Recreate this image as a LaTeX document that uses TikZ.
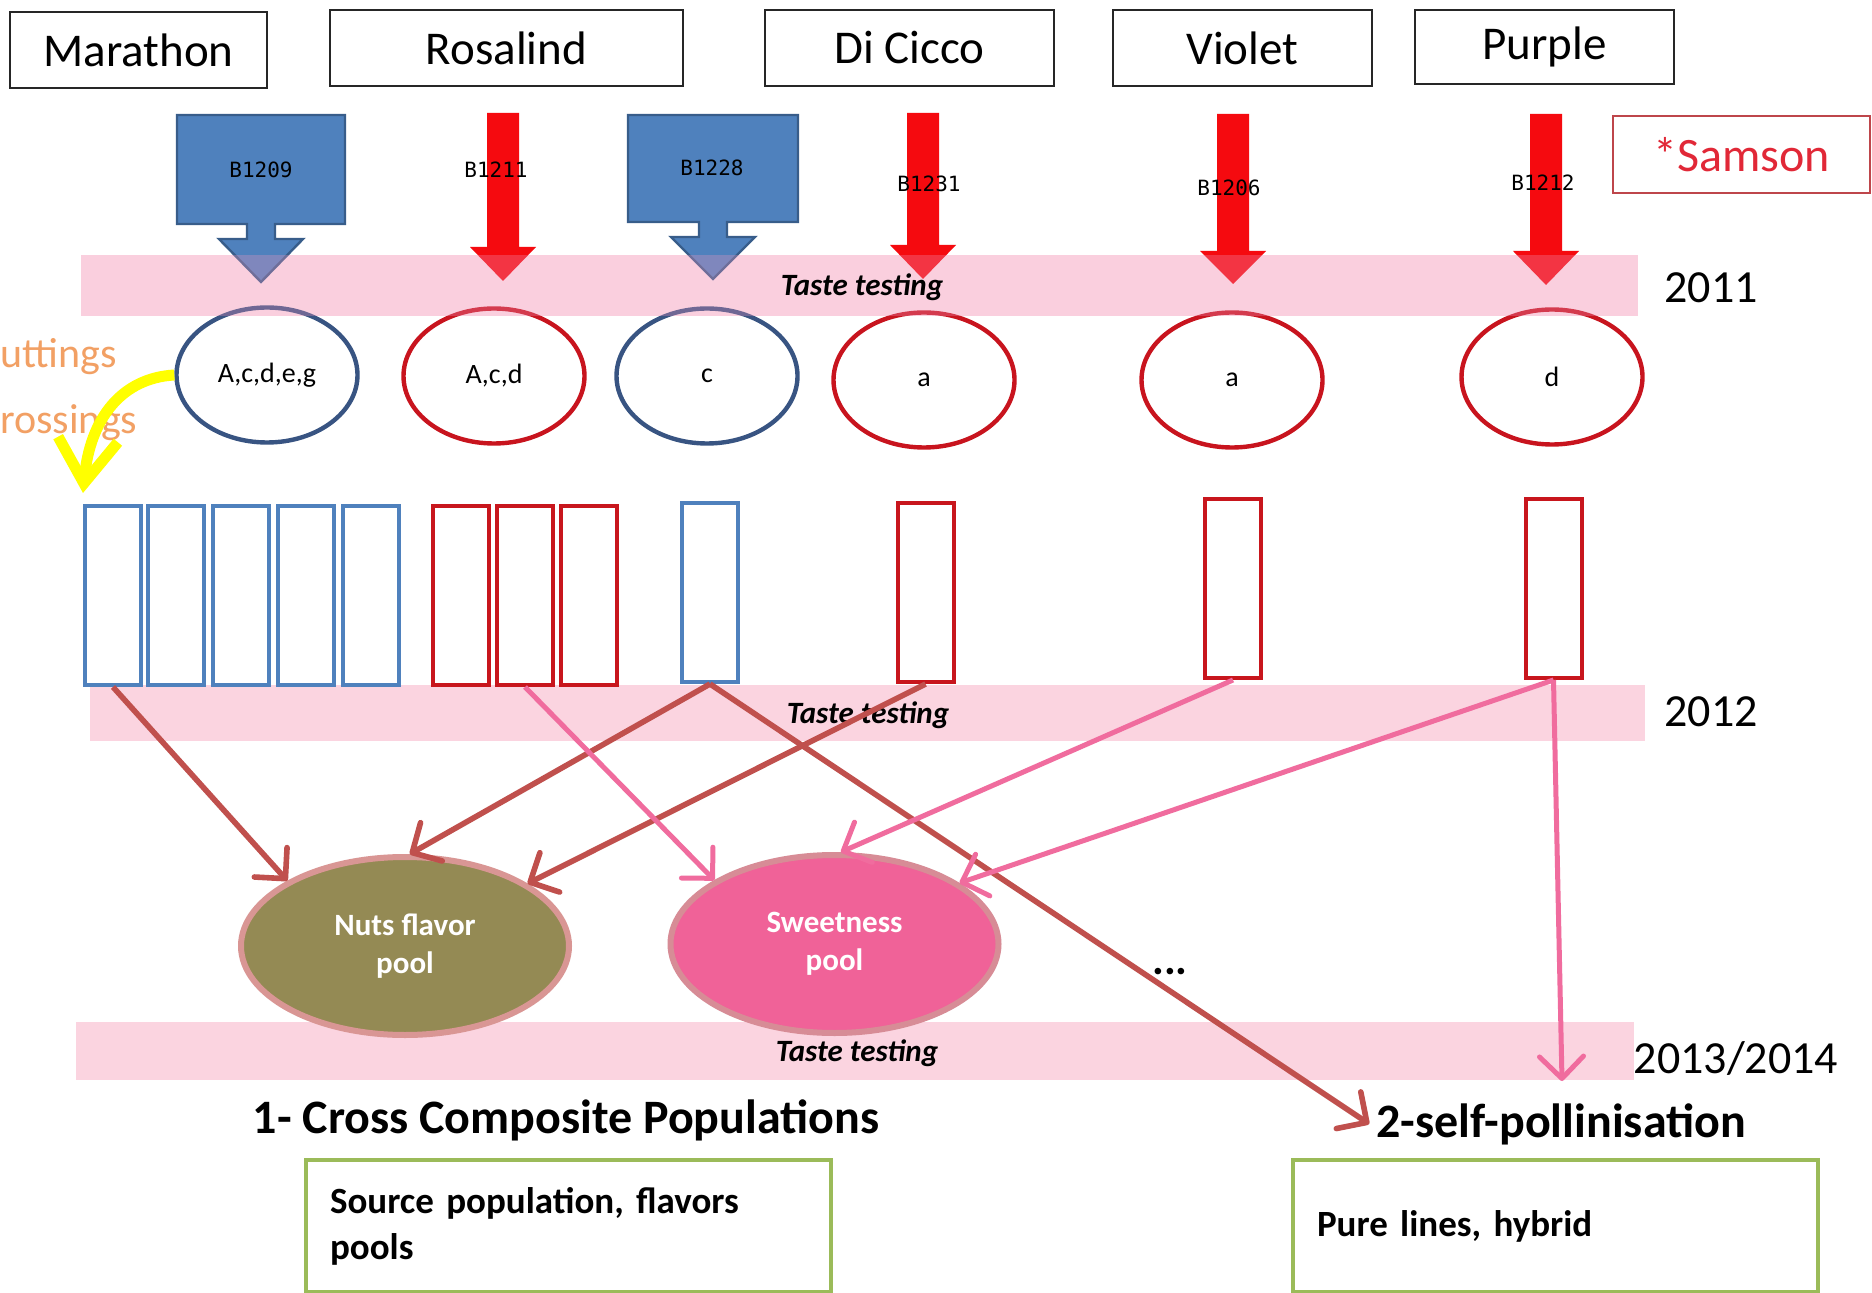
\documentclass[tikz,border=0pt]{standalone}
\usepackage{fontspec}
\setmainfont{Carlito}
\newfontfamily\monofont{DejaVu Sans Mono}
\usetikzlibrary{arrows.meta,shapes.geometric}

\definecolor{bandpink}{RGB}{251,212,224}
\definecolor{bandbase}{RGB}{255,233,236}
\definecolor{calloutblue}{RGB}{79,129,189}
\definecolor{calloutedge}{RGB}{56,93,138}
\definecolor{ellblue}{RGB}{56,84,130}
\definecolor{ellred}{RGB}{200,20,30}
\definecolor{rectblue}{RGB}{79,129,189}
\definecolor{rectred}{RGB}{200,22,29}
\definecolor{arrred}{RGB}{245,10,15}
\definecolor{brownarr}{RGB}{192,80,77}
\definecolor{pinkarr}{RGB}{240,108,158}
\definecolor{olivefill}{RGB}{148,138,84}
\definecolor{oliveedge}{RGB}{217,150,148}
\definecolor{sweetpink}{RGB}{240,98,152}
\definecolor{sweetedge}{RGB}{215,140,150}
\definecolor{boxgreen}{RGB}{155,187,89}
\definecolor{orangetxt}{RGB}{242,160,100}
\definecolor{samsonred}{RGB}{225,40,55}
\definecolor{samsonedge}{RGB}{190,70,75}
\definecolor{yellowarr}{RGB}{255,255,0}
\definecolor{overlaypink}{RGB}{240,150,190}

\begin{document}
\begin{tikzpicture}[x=0.5pt,y=-0.5pt,
  topbox/.style={draw=black!85, line width=1.2pt, minimum height=38pt, inner sep=0pt, font=\fontsize{23.5}{28}\selectfont},
  ellb/.style={ellipse, draw=ellblue, line width=2.2pt, minimum width=90.5pt, minimum height=67.5pt, inner sep=0pt, font=\fontsize{14}{16}\selectfont},
  ellr/.style={ellipse, draw=ellred, line width=2.2pt, minimum width=90.5pt, minimum height=67.5pt, inner sep=0pt, font=\fontsize{14}{16}\selectfont},
  rectb/.style={draw=rectblue, line width=2pt, minimum width=28pt, minimum height=89.5pt, inner sep=0pt},
  rectr/.style={draw=rectred, line width=2pt, minimum width=28pt, minimum height=89.5pt, inner sep=0pt},
  taste/.style={font=\fontsize{15.5}{18}\selectfont\bfseries\itshape, inner sep=0pt},
  year/.style={font=\fontsize{23}{27}\selectfont, inner sep=0pt},
  conb/.style={draw=brownarr, line width=2.8pt, -{Straight Barb[length=11pt,width=22pt,round]}},
  conp/.style={draw=pinkarr, line width=2.5pt, -{Straight Barb[length=11pt,width=22pt,round]}},
  pool/.style={ellipse, line width=3pt, minimum width=164pt, minimum height=89pt, inner sep=0pt, align=center, text=white, font=\fontsize{15.5}{19}\selectfont\bfseries},
  heading/.style={font=\fontsize{24}{28}\selectfont\bfseries},
  greenbox/.style={draw=boxgreen, line width=2pt, minimum height=66pt, text width=238.5pt, inner xsep=12pt, align=left, font=\fontsize{18.5}{23}\selectfont\bfseries},
  blabel/.style={font=\monofont\fontsize{10.5}{12}\selectfont, inner sep=0pt},
  callout/.style={fill=calloutblue, draw=calloutedge, line width=1.2pt},
  redarrow/.style={fill=arrred},
  sidetext/.style={text=orangetxt, font=\fontsize{21}{24}\selectfont, inner sep=0pt, anchor=west}
]
\useasboundingbox (0,0) rectangle (1872,1293);
\clip (0,0) rectangle (1872,1293);
\fill[white] (0,0) rectangle (1872,1293);

% bands
\fill[bandbase] (81,255) rectangle (1638,316);
\fill[bandpink] (90,685) rectangle (1645,741);
\fill[bandpink] (76,1022) rectangle (1634,1080);

% top variety boxes
\node[topbox, minimum width=128.5pt] (marathon) at (138.5,50) {Marathon};
\node[topbox, minimum width=176.5pt] (rosalind) at (506.5,48) {Rosalind};
\node[topbox, minimum width=144.5pt] (dicicco) at (909.5,48) {Di Cicco};
\node[topbox, minimum width=129.5pt] (violet) at (1242.5,48) {Violet};
\node[topbox, minimum width=129.5pt, minimum height=37pt] (purple) at (1544.5,47) {Purple};
\node[draw=samsonedge, line width=1pt, minimum width=128.5pt, minimum height=38.5pt, inner sep=0pt, text=samsonred, font=\fontsize{24}{28}\selectfont] (samson) at (1741.5,154.5) {*Samson};

% blue callouts
\draw[callout] (177,115) -- (345,115) -- (345,224) -- (275,224) -- (275,239) -- (303,239) -- (261,282) -- (219,239) -- (247,239) -- (247,224) -- (177,224) -- cycle;
\draw[callout] (628,115) -- (798,115) -- (798,222) -- (727,222) -- (727,237) -- (755,237) -- (713,279) -- (671,237) -- (699,237) -- (699,222) -- (628,222) -- cycle;

% red arrows
\fill[redarrow] (487,113) -- (519,113) -- (519,247) -- (536,247) -- (503,281) -- (470,247) -- (487,247) -- cycle;
\fill[redarrow] (907,113) -- (939,113) -- (939,245) -- (956,245) -- (923,279) -- (890,245) -- (907,245) -- cycle;
\fill[redarrow] (1217,114) -- (1249,114) -- (1249,251) -- (1266,251) -- (1233,284) -- (1200,251) -- (1217,251) -- cycle;
\fill[redarrow] (1530,114) -- (1562,114) -- (1562,251) -- (1579,251) -- (1546,285) -- (1513,251) -- (1530,251) -- cycle;

% ellipses
\node[ellb] (e1) at (267,375) {A,c,d,e,g};
\node[ellr] (e2) at (494,376) {A,c,d};
\node[ellb] (e3) at (707,376) {c};
\node[ellr] (e4) at (924,380) {a};
\node[ellr] (e5) at (1232,380) {a};
\node[ellr] (e6) at (1552,377) {d};

% light tint of the first band over what crosses it
\fill[overlaypink, fill opacity=0.3] (81,255) rectangle (1638,316);

% labels on arrows
\node[blabel] (l1209) at (261,170) {B1209};
\node[blabel] (l1211) at (496,170) {B1211};
\node[blabel] (l1228) at (712,168) {B1228};
\node[blabel] (l1231) at (929,184) {B1231};
\node[blabel] (l1206) at (1229,188) {B1206};
\node[blabel] (l1212) at (1543,183) {B1212};

% band texts and years
\node[taste] (t1) at (862,287) {Taste testing};
\node[taste] (t2) at (868,715) {Taste testing};
\node[taste] (t3) at (857,1053) {Taste testing};
\node[year] (y1) at (1711,288) {2011};
\node[year] (y2) at (1711,712) {2012};
\node[year] (y3) at (1736,1058) {2013/2014};

% side texts
\node[sidetext] (cut) at (0,357) {uttings};
\node[sidetext] (cross2) at (0,423) {rossings};

% rectangles
\node[rectb] (b1) at (113,595.5) {};
\node[rectb] (b2) at (176,595.5) {};
\node[rectb] (b3) at (241,595.5) {};
\node[rectb] (b4) at (306,595.5) {};
\node[rectb] (b5) at (371,595.5) {};
\node[rectr] (r1) at (461,595.5) {};
\node[rectr] (r2) at (525,595.5) {};
\node[rectr] (r3) at (589,595.5) {};
\node[rectb] (bs) at (710,592.5) {};
\node[rectr] (rd) at (925.5,592.5) {};
\node[rectr] (rv) at (1233,588.5) {};
\node[rectr] (rp) at (1553.5,588.5) {};

% yellow arrow
\coordinate (yend) at (83,493);
\draw[draw=yellowarr, line width=5.5pt, -{Straight Barb[length=22pt,width=30pt]}] (e1.west) .. controls (122,378) and (90,418) .. (yend);

% headings and boxes
\node[heading] (crosspop) at (566,1120) {1- Cross Composite Populations};
\node[heading] (self) at (1561,1124) {2-self-pollinisation};
\node[greenbox, anchor=north west] (box1) at (304,1158) {Source population, flavors\\pools};
\node[greenbox, anchor=north west] (box2) at (1291,1158) {Pure lines, hybrid};
\node[font=\fontsize{22}{24}\selectfont\bfseries, inner sep=0pt] (dots) at (1170,972) {...};

% pools
\node[pool, fill=olivefill, draw=oliveedge] (nuts) at (405,946) {Nuts flavor\\pool};
\node[pool, fill=sweetpink, draw=sweetedge] (sweet) at (834.5,944) {Sweetness\\pool};

% connectors
\coordinate (selfend) at (1562,1081);
\draw[conb] (b1.south) -- (nuts.151);
\draw[conb] (bs.south) -- (nuts.87);
\draw[conb] (rd.south) -- (nuts.27);
\draw[conb] (bs.south) -- (self.west);
\draw[conp] (r2.south) -- (sweet.152);
\draw[conp] (rv.south) -- (sweet.86);
\draw[conp] (rp.south) -- (sweet.26);
\draw[conp] (rp.south) -- (selfend);
\end{tikzpicture}
\end{document}
